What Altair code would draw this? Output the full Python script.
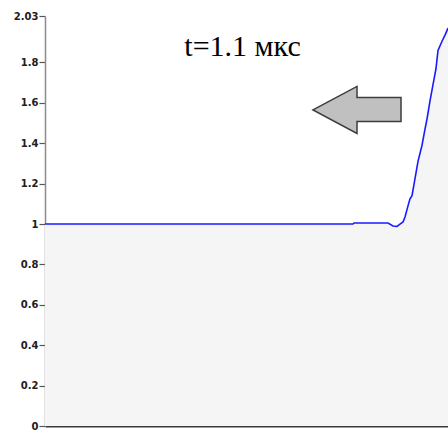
import altair as alt
import pandas as pd

# Profile along the (unlabelled) horizontal axis, arbitrary units
xs = [0, 308, 309, 343, 348, 352, 355, 358, 360, 363, 365, 367, 370, 373,
      377, 380, 382, 385, 388, 391, 393, 397, 400, 403]
vals = [1.0, 1.0, 1.005, 1.005, 0.99, 0.988, 1.0, 1.01, 1.035, 1.09, 1.125,
        1.14, 1.225, 1.31, 1.39, 1.47, 1.52, 1.61, 1.69, 1.77, 1.86, 1.905,
        1.935, 1.97]

y_ticks = [0, 0.2, 0.4, 0.6, 0.8, 1, 1.2, 1.4, 1.6, 1.8, 2.03]

label_text = ["t=1.1 мкс"]
label_x = [197.5]
label_y = [1.83]

arrow_x = [312]
arrow_y = [1.565]

df = pd.DataFrame({"x": xs, "v": vals})
txt = pd.DataFrame({"x": label_x, "v": label_y, "t": label_text})
arr = pd.DataFrame({"x": arrow_x, "v": arrow_y})

xsc = alt.Scale(domain=[0, 403], nice=False, zero=False)
ysc = alt.Scale(domain=[0, 2.03], nice=False)

xax = alt.Axis(title=None, labels=False, ticks=False, grid=False,
               domainColor="#3a3a3a", domainWidth=2)
yax = alt.Axis(title=None, values=y_ticks, format=".2~f", grid=False,
               domainColor="#8c8c8c", domainWidth=1.5, tickColor="#555555",
               tickSize=6, tickWidth=1.2, labelPadding=1,
               labelFont="DejaVu Sans", labelFontWeight="bold", labelFontSize=10,
               labelColor="#202020")

area = alt.Chart(df).mark_area(color="#f5f5f5", opacity=1).encode(
    x=alt.X("x:Q", scale=xsc, axis=xax),
    y=alt.Y("v:Q", scale=ysc, axis=yax),
)
line = alt.Chart(df).mark_line(color="#1a1aff", strokeWidth=1.6).encode(
    x=alt.X("x:Q", scale=xsc),
    y=alt.Y("v:Q", scale=ysc),
)
text = alt.Chart(txt).mark_text(font="Liberation Serif", fontSize=30,
                                color="#000000", align="center",
                                baseline="alphabetic").encode(
    x=alt.X("x:Q", scale=xsc),
    y=alt.Y("v:Q", scale=ysc),
    text="t:N",
)
arrow_path = "M -1 0 L 0 -0.534 L 0 -0.284 L 1 -0.284 L 1 0.261 L 0 0.261 L 0 0.534 Z"
arrow = alt.Chart(arr).mark_point(shape=arrow_path, filled=True, fill="#c0c0c0",
                                  fillOpacity=1, stroke="#3c3c3c", strokeWidth=1.5,
                                  opacity=1, size=7744).encode(
    x=alt.X("x:Q", scale=xsc),
    y=alt.Y("v:Q", scale=ysc),
)

chart = alt.layer(area, line, text, arrow).properties(
    width=403, height=410,
    autosize=alt.AutoSizeParams(type="none"),
    padding={"left": 45, "top": 16, "right": 0, "bottom": 4},
    background="white",
).configure_view(stroke=None)

chart.save("out.html", embed_options={"renderer": "svg", "actions": False})
